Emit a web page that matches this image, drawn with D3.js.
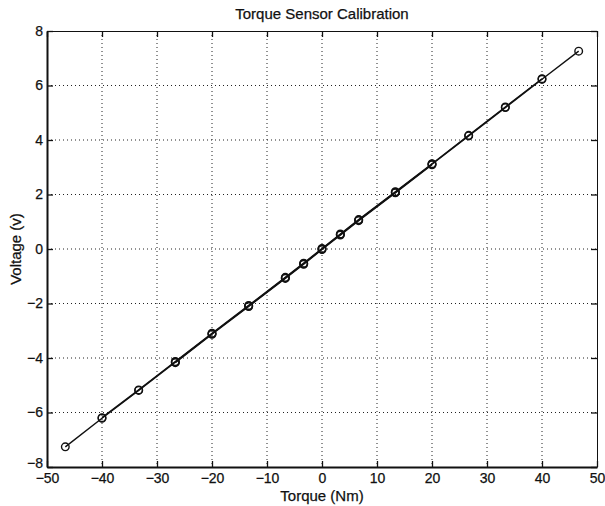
<!DOCTYPE html>
<html><head><meta charset="utf-8">
<script src="https://cdn.jsdelivr.net/npm/d3@7"></script>
<style>
body{margin:0;background:#fff;}
text{font-family:"Liberation Sans",Arial,Helvetica,sans-serif;fill:#111;stroke:#111;stroke-width:0.25px;}
</style></head>
<body><svg id="c" width="605" height="506"></svg>
<script>
const torque = [-46.67,-40,-33.33,-26.67,-20,-13.33,-6.67,-3.33,0,3.33,6.67,13.33,20,26.67,33.33,40,46.67];
const voltage = [-7.26,-6.21,-5.19,-4.15,-3.11,-2.09,-1.06,-0.54,0.0,0.53,1.06,2.08,3.11,4.15,5.19,6.23,7.26];
// repeated (unloading) runs, covering a narrower range
const torque2 = [-40,-33.33,-26.67,-20,-13.33,-6.67,-3.33,0,3.33,6.67,13.33,20,26.67,33.33,40];
const voltage2 = [-6.19,-5.17,-4.13,-3.09,-2.07,-1.04,-0.52,0.02,0.55,1.08,2.10,3.13,4.17,5.21,6.25];
const torque3 = [-26.67,-20,-13.33,-6.67,-3.33,0,3.33,6.67,13.33,20];
const voltage3 = [-4.17,-3.13,-2.11,-1.08,-0.56,-0.02,0.51,1.04,2.06,3.09];
const xTicks = [-50,-40,-30,-20,-10,0,10,20,30,40,50];
const yTicks = [-8,-6,-4,-2,0,2,4,6,8];
const title = "Torque Sensor Calibration";
const xLabel = "Torque (Nm)";
const yLabel = "Voltage (v)";

const L=47,R=597,T=31,B=467;
const svg=d3.select("#c");
const x=d3.scaleLinear().domain([-50,50]).range([L,R]);
const y=d3.scaleLinear().domain([-8,8]).range([B,T]);

// grid
const g=svg.append("g");
g.selectAll(".gx").data(xTicks.slice(1,-1)).join("line")
 .attr("x1",d=>x(d)).attr("x2",d=>x(d)).attr("y1",T).attr("y2",B)
 .attr("stroke","#222").attr("stroke-width",1).attr("stroke-dasharray","1,3");
g.selectAll(".gy").data(yTicks.slice(1,-1)).join("line")
 .attr("y1",d=>y(d)).attr("y2",d=>y(d)).attr("x1",L).attr("x2",R)
 .attr("stroke","#222").attr("stroke-width",1).attr("stroke-dasharray","1,3");

// axes
const ax=(gen,tr)=>svg.append("g").attr("transform",tr).call(gen);
const styleAxis=(sel,w)=>{sel.select(".domain").attr("stroke","#111").attr("stroke-width",w);sel.selectAll(".tick line").attr("stroke","#111").attr("stroke-width",1.3);sel.selectAll("text").style("font-size","14px").attr("fill","#111");};
const fmt=d=>d<0?"\u2212"+(-d):d;
const bx=ax(d3.axisBottom(x).tickValues(xTicks).tickSize(-6).tickSizeOuter(0).tickPadding(6).tickFormat(fmt),`translate(0,${B})`);
styleAxis(bx,2);
const tx=ax(d3.axisTop(x).tickValues(xTicks).tickSize(-6).tickSizeOuter(0).tickFormat(""),`translate(0,${T})`);
styleAxis(tx,1);
const ly=ax(d3.axisLeft(y).tickValues(yTicks).tickSize(-6).tickSizeOuter(0).tickPadding(4).tickFormat(fmt),`translate(${L},0)`);
styleAxis(ly,2);
ly.selectAll(".tick text").filter(d=>d===-8).attr("dy","0.05em");
const ry=ax(d3.axisRight(y).tickValues(yTicks).tickSize(-6).tickSizeOuter(0).tickFormat(""),`translate(${R},0)`);
styleAxis(ry,1);

// series
const line=d3.line().x(d=>x(d[0])).y(d=>y(d[1]));
const series=[d3.zip(torque,voltage),d3.zip(torque2,voltage2),d3.zip(torque3,voltage3)];
series.forEach(s=>{
 svg.append("path").datum(s).attr("d",line).attr("fill","none").attr("stroke","#111").attr("stroke-width",1.4);
});
series.forEach(s=>{
 svg.append("g").selectAll("circle").data(s).join("circle")
  .attr("cx",d=>x(d[0])).attr("cy",d=>y(d[1])).attr("r",3.8)
  .attr("fill","none").attr("stroke","#111").attr("stroke-width",1.4);
});

// labels
svg.append("text").attr("x",(L+R)/2).attr("y",19).attr("text-anchor","middle").style("font-size","15px").text(title);
svg.append("text").attr("x",(L+R)/2).attr("y",501).attr("text-anchor","middle").style("font-size","15px").text(xLabel);
svg.append("text").attr("transform",`translate(21,${(T+B)/2}) rotate(-90)`).attr("text-anchor","middle").style("font-size","15px").text(yLabel);
</script></body></html>
